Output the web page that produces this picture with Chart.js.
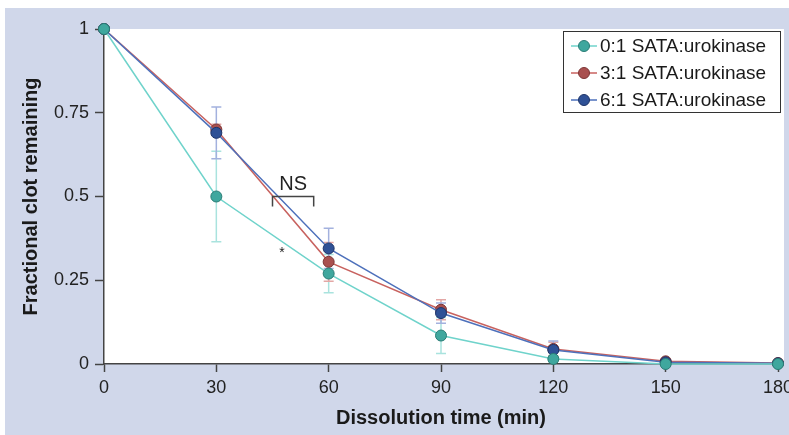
<!DOCTYPE html>
<html>
<head>
<meta charset="utf-8">
<script src="https://cdn.jsdelivr.net/npm/chart.js@4"></script>
<style>
  html, body { margin: 0; padding: 0; background: #ffffff; }
  #wrap { width: 789px; height: 435px; position: relative; }
  canvas { display: block; }
</style>
</head>
<body>
<div id="wrap"><canvas id="mainChart" width="789" height="435"></canvas></div>
<script>
// Dados do gráfico
const times = [0, 30, 60, 90, 120, 150, 180];
const seriesLabels = ['0:1 SATA:urokinase', '3:1 SATA:urokinase', '6:1 SATA:urokinase'];
const ratio0 = [1, 0.5, 0.27, 0.085, 0.015, 0.0, 0.0];
const ratio3 = [1, 0.70, 0.305, 0.162, 0.045, 0.008, 0.003];
const ratio6 = [1, 0.69, 0.345, 0.152, 0.042, 0.005, 0.002];
const err0 = [0, 0.135, 0.057, 0.054, 0.008, 0, 0];
const err3 = [0, 0.016, 0.058, 0.03, 0.02, 0.004, 0];
const err6 = [0, 0.077, 0.06, 0.03, 0.027, 0.004, 0];
const yTicks = [0, 0.25, 0.5, 0.75, 1];

const sans = "'Liberation Sans', Arial, Helvetica, sans-serif";

// cores
const colors = [
    { line: '#6fd3cb', fill: '#3fa79e', edge: '#2b7d76', err: '#a9e3de' },
    { line: '#c8625f', fill: '#a9504f', edge: '#7d3636', err: '#e3a7a5' },
    { line: '#4d70bb', fill: '#2f5196', edge: '#1e3468', err: '#a3b1de' }
];
const errors = [err0, err3, err6];

function toPoints(arr) {
    return times.map((t, i) => ({ x: t, y: arr[i] }));
}

// fundo azul + área branca
const backgroundPlugin = {
    id: 'panelBg',
    beforeDraw(chart) {
        const { ctx, chartArea } = chart;
        ctx.save();
        ctx.fillStyle = '#d0d7ea';
        ctx.fillRect(5, 8, chart.width - 5, chart.height - 8);
        ctx.fillStyle = '#ffffff';
        ctx.fillRect(chartArea.left, chartArea.top, chartArea.right + 6 - chartArea.left, chartArea.bottom - chartArea.top);
        ctx.restore();
    }
};

// barras de erro
const errorBarPlugin = {
    id: 'errorBars',
    beforeDatasetsDraw(chart) {
        const { ctx, scales } = chart;
        ctx.save();
        ctx.lineWidth = 1.5;
        chart.data.datasets.forEach((ds, di) => {
            ctx.strokeStyle = colors[di].err;
            ds.data.forEach((p, i) => {
                const e = errors[di][i];
                if (!e) return;
                const x = scales.x.getPixelForValue(p.x);
                const yTop = scales.y.getPixelForValue(p.y + e);
                const yBot = scales.y.getPixelForValue(p.y - e);
                ctx.beginPath();
                ctx.moveTo(x, yTop); ctx.lineTo(x, yBot);
                ctx.moveTo(x - 5, yTop); ctx.lineTo(x + 5, yTop);
                ctx.moveTo(x - 5, yBot); ctx.lineTo(x + 5, yBot);
                ctx.stroke();
            });
        });
        ctx.restore();
    }
};

// anotações NS / * e legenda
const annotationPlugin = {
    id: 'notes',
    afterDraw(chart) {
        const { ctx, scales } = chart;
        const x1 = scales.x.getPixelForValue(45);
        const x2 = scales.x.getPixelForValue(56);
        const yb = scales.y.getPixelForValue(0.5);
        const yb2 = scales.y.getPixelForValue(0.47);
        ctx.save();
        ctx.strokeStyle = '#444';
        ctx.lineWidth = 1.5;
        ctx.beginPath();
        ctx.moveTo(x1, yb2); ctx.lineTo(x1, yb); ctx.lineTo(x2, yb); ctx.lineTo(x2, yb2);
        ctx.stroke();
        ctx.fillStyle = '#222';
        ctx.font = "20px " + sans;
        ctx.textAlign = 'center';
        ctx.textBaseline = 'middle';
        ctx.fillText('NS', (x1 + x2) / 2, scales.y.getPixelForValue(0.537));
        ctx.font = "14px " + sans;
        ctx.fillText('*', scales.x.getPixelForValue(47.5), scales.y.getPixelForValue(0.33));

        // legenda
        const lx = 563, ly = 31, lw = 217, lh = 81;
        ctx.fillStyle = '#ffffff';
        ctx.fillRect(lx, ly, lw, lh);
        ctx.strokeStyle = '#333';
        ctx.lineWidth = 1;
        ctx.strokeRect(lx + 0.5, ly + 0.5, lw, lh);
        ctx.font = "19px " + sans;
        ctx.textAlign = 'left';
        chart.data.datasets.forEach((ds, i) => {
            const y = ly + 15 + i * 27;
            ctx.strokeStyle = colors[i].line;
            ctx.lineWidth = 1.5;
            ctx.beginPath();
            ctx.moveTo(lx + 8, y); ctx.lineTo(lx + 34, y);
            ctx.stroke();
            ctx.beginPath();
            ctx.arc(lx + 21, y, 5.5, 0, Math.PI * 2);
            ctx.fillStyle = colors[i].fill;
            ctx.fill();
            ctx.strokeStyle = colors[i].edge;
            ctx.lineWidth = 1;
            ctx.stroke();
            ctx.fillStyle = '#1a1a1a';
            ctx.fillText(ds.label, lx + 37, y + 1);
        });
        ctx.restore();
    }
};

const datasets = [ratio0, ratio3, ratio6].map((arr, i) => ({
    label: seriesLabels[i],
    data: toPoints(arr),
    borderColor: colors[i].line,
    backgroundColor: colors[i].fill,
    pointBackgroundColor: colors[i].fill,
    pointBorderColor: colors[i].edge,
    pointBorderWidth: 1,
    pointRadius: 5.5,
    borderWidth: 1.5,
    tension: 0,
    fill: false,
    clip: false,
    order: [0, 2, 1][i]
}));

new Chart(document.getElementById('mainChart'), {
    type: 'line',
    data: { datasets: datasets },
    options: {
        responsive: false,
        animation: false,
        devicePixelRatio: 1,
        layout: { padding: { left: 0, top: 29, right: 11, bottom: 0 } },
        plugins: {
            legend: { display: false },
            tooltip: { enabled: false }
        },
        scales: {
            x: {
                type: 'linear',
                min: 0,
                max: 180,
                afterBuildTicks: (scale) => { scale.ticks = times.map(v => ({ value: v })); },
                afterFit: (scale) => {
                    scale.height = 71;
                    scale.paddingLeft = 0;
                    scale.paddingRight = 0;
                },
                grid: { drawOnChartArea: false, tickLength: 8, color: '#444', tickWidth: 1.5 },
                border: { color: '#444', width: 1.5 },
                ticks: {
                    color: '#222',
                    padding: 5,
                    autoSkip: false,
                    font: { family: sans, size: 18 },
                    maxRotation: 0
                },
                title: {
                    display: true,
                    text: 'Dissolution time (min)',
                    color: '#1a1a1a',
                    font: { family: sans, size: 20, weight: 'bold' },
                    padding: { top: 0, bottom: 5 }
                }
            },
            y: {
                type: 'linear',
                min: 0,
                max: 1,
                afterBuildTicks: (scale) => { scale.ticks = yTicks.map(v => ({ value: v })); },
                afterFit: (scale) => {
                    scale.width = 104;
                    scale.paddingTop = 0;
                    scale.paddingBottom = 0;
                },
                grid: { drawOnChartArea: false, tickLength: 9, color: '#444', tickWidth: 1.5 },
                border: { color: '#444', width: 1.5 },
                ticks: {
                    color: '#222',
                    padding: 6,
                    autoSkip: false,
                    font: { family: sans, size: 18 },
                    callback: (v) => String(v)
                },
                title: {
                    display: true,
                    text: 'Fractional clot remaining',
                    color: '#1a1a1a',
                    font: { family: sans, size: 20, weight: 'bold' },
                    padding: { top: 19, bottom: 0 }
                }
            }
        }
    },
    plugins: [backgroundPlugin, errorBarPlugin, annotationPlugin]
});
</script>
</body>
</html>
